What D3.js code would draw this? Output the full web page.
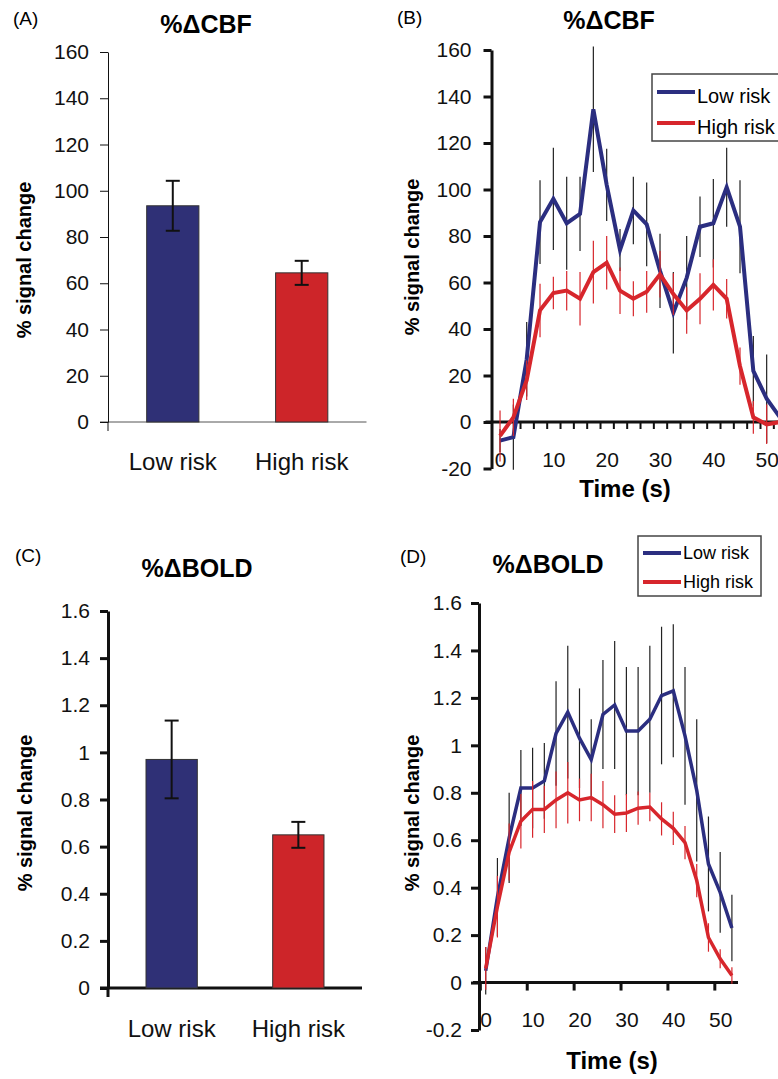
<!DOCTYPE html>
<html lang="en">
<head>
  <meta charset="utf-8">
  <title>CBF and BOLD signal change, low vs high risk</title>
  <script src="https://d3js.org/d3.v7.min.js"></script>
  <style>
    body { margin: 0; background: #fff; }
    svg { display: block; font-family: 'Liberation Sans', Arial, sans-serif; }
    .tick text { fill: #111; }
    .title { font-weight: bold; font-size: 25px; text-anchor: middle; }
    .panel { font-size: 19px; }
    .ylab { font-weight: bold; font-size: 20px; text-anchor: middle; }
    .xlab { font-weight: bold; font-size: 24px; text-anchor: middle; }
    .legend text { font-size: 20px; }
  </style>
</head>
<body>
<div id="chart"></div>
<script>

  // ---- data ----
  var categories = ['Low risk', 'High risk'];
  var seriesNames = ['Low risk', 'High risk'];

  var cbfBarMeans = [93.5, 64.5];
  var cbfBarErrors = [10.8, 5.2];
  var boldBarMeans = [0.97, 0.65];
  var boldBarErrors = [0.165, 0.055];

  var timePoints = [0, 2.5, 5, 7.5, 10, 12.5, 15, 17.5, 20, 22.5, 25, 27.5, 30, 32.5, 35, 37.5, 40, 42.5, 45, 47.5, 50, 52.5];

  var cbfLow     = [-8, -6.5, 27, 86, 96, 85.5, 89.5, 134.5, 102, 74, 91, 85, 65, 47, 62, 84, 85.5, 101, 84, 22, 10, 2];
  var cbfLowErr  = [5, 14, 16, 18, 22, 20, 16, 27, 15.5, 9, 14.5, 18, 16, 17.5, 18, 13, 19, 17, 20, 15, 19, 15];
  var cbfHigh    = [-6, 2, 18, 48, 55.5, 56.5, 53, 64.5, 68.5, 56.5, 53, 56, 63.5, 55, 48, 53, 59, 53, 24, 2, -1, 0];
  var cbfHighErr = [11, 8, 8.5, 11.5, 7, 8.5, 11.5, 13.5, 11.5, 10, 7.5, 9, 10, 9, 10, 11, 11, 8.5, 8, 7, 8.5, 6];

  var boldLow     = [0.05, 0.36, 0.61, 0.82, 0.82, 0.85, 1.05, 1.14, 1.03, 0.94, 1.13, 1.17, 1.06, 1.06, 1.11, 1.21, 1.23, 1.04, 0.81, 0.50, 0.38, 0.23];
  var boldLowErr  = [0.1, 0.165, 0.19, 0.16, 0.17, 0.16, 0.22, 0.28, 0.21, 0.17, 0.23, 0.27, 0.27, 0.27, 0.31, 0.29, 0.28, 0.29, 0.3, 0.2, 0.17, 0.14];
  var boldHigh    = [0.06, 0.32, 0.55, 0.68, 0.73, 0.73, 0.77, 0.80, 0.77, 0.78, 0.75, 0.71, 0.715, 0.735, 0.74, 0.69, 0.65, 0.59, 0.43, 0.19, 0.10, 0.03];
  var boldHighErr = [0.09, 0.13, 0.12, 0.115, 0.12, 0.1, 0.12, 0.13, 0.09, 0.1, 0.1, 0.08, 0.08, 0.07, 0.06, 0.07, 0.07, 0.07, 0.07, 0.06, 0.04, 0.035];

  var cbfTicks = [-20, 0, 20, 40, 60, 80, 100, 120, 140, 160];
  var cbfBarTicks = [0, 20, 40, 60, 80, 100, 120, 140, 160];
  var boldTicks = [-0.2, 0, 0.2, 0.4, 0.6, 0.8, 1, 1.2, 1.4, 1.6];
  var boldBarTicks = [0, 0.2, 0.4, 0.6, 0.8, 1, 1.2, 1.4, 1.6];
  var timeTicks = [0, 10, 20, 30, 40, 50];
  var cbfTimeMarks = [3.75, 6.25, 8.75, 11.25, 13.75, 16.25, 18.75, 21.25, 23.75, 26.25, 28.75, 31.25, 33.75, 36.25, 38.75, 41.25, 43.75, 46.25, 48.75, 51.25];
  var boldTimeMarks = [-1.25, 8.75, 18.75, 28.75, 38.75, 48.75];

  var colors = ['#2b2e80', '#d7262c'];
  var barColors = ['#2f3076', '#cd2529'];

  var fmt = function(d) { return (d < 0 ? '-' : '') + String(+Math.abs(d).toFixed(1)); };

  var svg = d3.select('#chart')
              .append('svg')
              .attr('width', 778)
              .attr('height', 1079);

  var text = function(x, y, str, cls, rotate) {
    var t = svg.append('text')
               .attr('class', cls)
               .text(str);
    if (rotate) {
      t.attr('transform', 'translate(' + x + ',' + y + ') rotate(-90)');
    } else {
      t.attr('x', x).attr('y', y);
    }
    return t;
  };

  // ---------- bar panels (A, C) ----------
  var drawBars = function(opts) {

    var y = d3.scaleLinear().domain(opts.domain).range(opts.yRange);
    var x = d3.scaleBand()
              .domain(categories)
              .range(opts.xRange)
              .paddingInner(0.595)
              .paddingOuter(0.3);

    var g = svg.append('g');

    // baseline
    g.append('line')
     .attr('x1', opts.xRange[0] - 8).attr('x2', opts.xRange[1])
     .attr('y1', y(0)).attr('y2', y(0))
     .attr('stroke', opts.baseColor)
     .attr('stroke-width', opts.axisWidth);

    g.selectAll('.bar')
     .data(opts.means)
     .enter()
     .append('rect')
     .attr('x', function(d, i) { return x(categories[i]); })
     .attr('y', function(d) { return y(d); })
     .attr('width', x.bandwidth())
     .attr('height', function(d) { return y(0) - y(d); })
     .attr('fill', function(d, i) { return barColors[i]; })
     .attr('stroke', '#333')
     .attr('stroke-width', 1);

    var cx = function(i) { return x(categories[i]) + x.bandwidth() / 2; };

    var err = g.selectAll('.err')
               .data(opts.means)
               .enter()
               .append('g')
               .attr('stroke', '#111')
               .attr('stroke-width', 2);

    err.append('line')
       .attr('x1', function(d, i) { return cx(i); })
       .attr('x2', function(d, i) { return cx(i); })
       .attr('y1', function(d, i) { return y(d + opts.errors[i]); })
       .attr('y2', function(d, i) { return y(d - opts.errors[i]); });

    [1, -1].forEach(function(s) {
      err.append('line')
         .attr('x1', function(d, i) { return cx(i) - 7; })
         .attr('x2', function(d, i) { return cx(i) + 7; })
         .attr('y1', function(d, i) { return y(d + s * opts.errors[i]); })
         .attr('y2', function(d, i) { return y(d + s * opts.errors[i]); });
    });

    var yAxis = g.append('g')
                 .attr('transform', 'translate(' + opts.xRange[0] + ',0)')
                 .call(d3.axisLeft(y)
                         .tickValues(opts.ticks)
                         .tickSize(8)
                         .tickSizeOuter(0)
                         .tickPadding(opts.tickPad)
                         .tickFormat(fmt));
    yAxis.selectAll('path, line')
         .attr('stroke', '#111')
         .attr('stroke-width', opts.axisWidth);
    yAxis.selectAll('text').style('font-size', '21px');

    g.append('line')
     .attr('x1', opts.xRange[0]).attr('x2', opts.xRange[0])
     .attr('y1', y(0)).attr('y2', y(0) + 9)
     .attr('stroke', '#111')
     .attr('stroke-width', opts.axisWidth);

    var xAxis = g.append('g')
                 .attr('transform', 'translate(0,' + y(0) + ')')
                 .call(d3.axisBottom(x).tickSize(0).tickPadding(opts.catPad));
    xAxis.select('.domain').remove();
    xAxis.selectAll('text').style('font-size', '24px');
  };

  drawBars({
    means: cbfBarMeans, errors: cbfBarErrors,
    domain: [0, 160], yRange: [422, 52], xRange: [108, 366.5],
    ticks: cbfBarTicks, tickPad: 11, catPad: 31,
    axisWidth: 1, baseColor: '#555'
  });

  drawBars({
    means: boldBarMeans, errors: boldBarErrors,
    domain: [0, 1.6], yRange: [988, 611], xRange: [108, 362],
    ticks: boldBarTicks, tickPad: 10, catPad: 32,
    axisWidth: 3, baseColor: '#111'
  });

  // ---------- time course panels (B, D) ----------
  var drawLines = function(opts) {

    var x = d3.scaleLinear().domain(opts.xDomain).range(opts.xRange);
    var y = d3.scaleLinear().domain(opts.yDomain).range(opts.yRange);
    var g = svg.append('g');

    // x axis at zero
    g.append('line')
     .attr('x1', opts.xRange[0] - 6).attr('x2', opts.xRange[1])
     .attr('y1', y(0)).attr('y2', y(0))
     .attr('stroke', '#111')
     .attr('stroke-width', 3);

    var marks = g.append('g')
                 .attr('transform', 'translate(0,' + y(0) + ')')
                 .call(d3.axisBottom(x)
                         .tickValues(opts.marks)
                         .tickSize(opts.markSize)
                         .tickFormat(''));
    marks.select('.domain').remove();
    marks.selectAll('line').attr('stroke', '#111').attr('stroke-width', opts.markWidth);

    var labels = g.append('g')
                  .attr('transform', 'translate(0,' + opts.labelY + ')')
                  .call(d3.axisBottom(x)
                          .tickValues(timeTicks)
                          .tickSize(0)
                          .tickPadding(7));
    labels.select('.domain').remove();
    labels.selectAll('text').style('font-size', '21px');

    var yAxis = g.append('g')
                 .attr('transform', 'translate(' + opts.xRange[0] + ',0)')
                 .call(d3.axisLeft(y)
                         .tickValues(opts.ticks)
                         .tickSize(8)
                         .tickSizeOuter(0)
                         .tickPadding(opts.tickPad)
                         .tickFormat(fmt));
    yAxis.selectAll('path, line').attr('stroke', '#111').attr('stroke-width', 3);
    yAxis.selectAll('text').style('font-size', '21px');

    var line = d3.line()
                 .x(function(d) { return x(d.t); })
                 .y(function(d) { return y(d.v); });

    opts.series.forEach(function(s, k) {

      var pts = timePoints.map(function(t, i) { return { t: t, v: s.values[i], e: s.errors[i] }; });

      g.append('g')
       .selectAll('line')
       .data(pts)
       .enter()
       .append('line')
       .attr('x1', function(d) { return x(d.t); })
       .attr('x2', function(d) { return x(d.t); })
       .attr('y1', function(d) { return y(d.v + d.e); })
       .attr('y2', function(d) { return y(d.v - d.e); })
       .attr('stroke', k === 0 ? '#222' : colors[1])
       .attr('stroke-width', 1.2);

      g.append('path')
       .datum(pts)
       .attr('d', line)
       .attr('fill', 'none')
       .attr('stroke', colors[k])
       .attr('stroke-width', opts.lineWidth)
       .attr('stroke-linejoin', 'miter');
    });

    // legend
    var lg = svg.append('g').attr('class', 'legend');
    lg.append('rect')
      .attr('x', opts.legend.x).attr('y', opts.legend.y)
      .attr('width', opts.legend.w).attr('height', opts.legend.h)
      .attr('fill', '#fff')
      .attr('stroke', '#444')
      .attr('stroke-width', 1.5);

    seriesNames.forEach(function(name, i) {
      var ly = opts.legend.y + opts.legend.rows[i];
      lg.append('line')
        .attr('x1', opts.legend.x + 5).attr('x2', opts.legend.x + 43)
        .attr('y1', ly).attr('y2', ly)
        .attr('stroke', colors[i])
        .attr('stroke-width', 4);
      lg.append('text')
        .attr('x', opts.legend.x + 45)
        .attr('y', ly + opts.legend.dy)
        .style('font-size', opts.legend.size)
        .text(name);
    });
  };

  drawLines({
    xDomain: [-1.6, 52.5], xRange: [491.5, 780],
    yDomain: [-20, 160], yRange: [468.5, 50],
    ticks: cbfTicks, tickPad: 12,
    marks: cbfTimeMarks, markSize: 7, markWidth: 2,
    labelY: 445, lineWidth: 4,
    series: [{ values: cbfLow, errors: cbfLowErr }, { values: cbfHigh, errors: cbfHighErr }],
    legend: { x: 652, y: 74, w: 140, h: 67, rows: [18, 49], dy: 11, size: '20px' }
  });

  drawLines({
    xDomain: [-1.43, 53.8], xRange: [479, 738],
    yDomain: [-0.2, 1.6], yRange: [1030, 603],
    ticks: boldTicks, tickPad: 9,
    marks: boldTimeMarks, markSize: 8, markWidth: 3,
    labelY: 1005, lineWidth: 3.5,
    series: [{ values: boldLow, errors: boldLowErr }, { values: boldHigh, errors: boldHighErr }],
    legend: { x: 638, y: 536, w: 123, h: 60, rows: [17, 46], dy: 6, size: '18px' }
  });

  // ---------- titles and labels ----------
  text(13, 25, '(A)', 'panel');
  text(397, 24, '(B)', 'panel');
  text(15, 562, '(C)', 'panel');
  text(400, 563, '(D)', 'panel');

  text(206, 33, '%\u0394CBF', 'title');
  text(609, 29, '%\u0394CBF', 'title');
  text(197, 577, '%\u0394BOLD', 'title');
  text(548, 573, '%\u0394BOLD', 'title');

  text(31, 260, '% signal change', 'ylab', true);
  text(419, 257, '% signal change', 'ylab', true);
  text(32, 813, '% signal change', 'ylab', true);
  text(419, 813, '% signal change', 'ylab', true);

  text(625, 497, 'Time (s)', 'xlab');
  text(612, 1069, 'Time (s)', 'xlab');

</script>
</body>
</html>
